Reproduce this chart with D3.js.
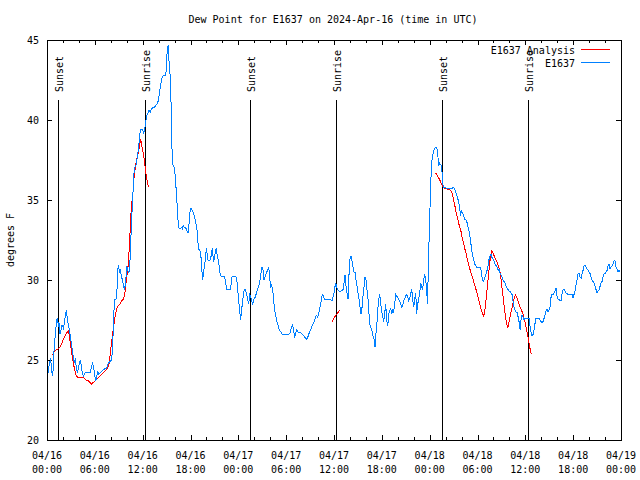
<!DOCTYPE html>
<html><head><meta charset="utf-8">
<script src="https://cdn.jsdelivr.net/npm/d3@7"></script>
<style>
html,body{margin:0;padding:0;background:#fff;}
svg{display:block;font-family:"DejaVu Sans Mono",monospace;font-size:10px;}
</style></head><body>
<svg id="chart" width="640" height="480"></svg>
<script>
// ---- data (hours after 2024-04-16 00:00 UTC, dew point in deg F) ----
const obsHours = [0.17,0.29,0.46,0.59,0.71,0.79,0.92,1.09,1.21,1.34,1.42,1.55,1.63,1.76,1.88,2.05,2.17,2.3,2.42,2.55,2.68,2.8,2.93,3.05,3.18,3.3,3.43,3.55,3.68,3.81,3.93,4.06,4.18,4.31,4.43,4.56,4.68,4.81,5.4,5.6,5.73,5.85,5.98,6.1,6.23,6.36,6.48,6.65,7.07,7.48,7.69,7.9,8.11,8.24,8.36,8.49,8.66,8.78,8.91,9.0,9.07,9.2,9.32,9.45,9.57,9.7,9.83,9.91,9.99,10.12,10.24,10.37,10.45,10.58,10.66,10.79,10.95,11.12,11.25,11.37,11.5,11.62,11.71,11.83,12.0,12.12,12.25,12.37,12.46,12.63,12.79,12.96,13.13,13.29,13.46,13.63,13.8,13.96,14.09,14.21,14.34,14.46,14.63,14.88,14.97,15.05,15.13,15.22,15.3,15.47,15.59,15.68,15.8,15.97,16.1,16.22,16.35,16.47,16.6,16.72,16.85,16.97,17.1,17.22,17.35,17.47,17.6,17.73,17.85,17.98,18.1,18.15,18.36,18.52,18.69,18.86,18.94,19.07,19.19,19.32,19.44,19.53,19.61,19.74,19.86,19.95,20.03,20.11,20.24,20.36,20.53,20.66,20.74,20.87,20.99,21.12,21.24,21.37,21.49,21.62,21.74,21.91,22.29,22.41,22.54,22.96,23.08,23.21,23.71,23.83,23.96,24.09,24.21,24.29,24.38,24.5,24.63,24.75,24.88,25.05,25.17,25.3,25.42,25.55,25.67,25.8,25.97,26.09,26.22,26.34,26.47,26.59,26.72,26.84,26.97,27.1,27.22,27.3,27.43,27.56,27.68,27.81,27.93,28.06,28.14,28.27,28.39,28.52,28.64,28.77,28.89,29.02,29.14,29.27,29.39,29.52,29.77,30.31,30.48,30.69,30.82,30.94,31.07,31.19,31.32,31.44,31.57,31.86,32.07,32.24,32.36,32.57,32.7,32.82,32.99,33.16,33.32,33.45,33.58,33.7,33.83,33.95,34.08,34.2,34.33,34.45,34.54,34.66,34.79,35.5,35.75,35.87,36.0,36.13,36.21,36.33,36.46,36.67,36.88,37.13,37.26,37.38,37.51,37.63,37.76,37.84,37.93,38.01,38.14,38.26,38.39,38.51,38.64,38.76,38.89,39.01,39.14,39.27,39.39,39.52,39.64,39.77,39.89,40.02,40.14,40.27,40.39,40.52,40.65,40.77,40.9,41.02,41.15,41.27,41.4,41.48,41.61,41.73,41.86,41.98,42.11,42.23,42.36,42.48,42.61,42.74,42.86,42.99,43.11,43.24,43.36,43.49,43.61,43.74,43.86,43.99,44.11,44.24,44.37,44.49,44.62,44.74,44.87,44.99,45.12,45.24,45.37,45.49,45.62,45.75,45.87,46.0,46.12,46.25,46.37,46.5,46.62,46.75,46.87,47.0,47.12,47.25,47.38,47.5,47.63,47.71,47.79,47.88,48.0,48.13,48.25,48.38,48.5,48.63,48.76,48.88,49.01,49.13,49.26,49.38,49.51,49.63,49.76,49.93,50.13,50.55,50.76,50.97,51.1,51.26,51.39,51.51,51.64,51.77,51.89,52.02,52.14,52.27,52.39,52.52,52.64,52.77,52.89,53.02,53.14,53.27,53.4,53.52,53.65,53.77,53.9,54.36,54.45,54.57,54.7,54.82,54.95,55.07,55.2,55.32,55.45,55.57,55.7,55.82,55.95,56.08,56.2,56.33,56.45,56.58,56.7,56.83,56.95,57.08,57.2,57.33,57.46,57.58,57.71,57.83,57.96,58.08,58.21,58.33,58.46,58.58,58.71,58.83,58.96,59.09,59.21,59.34,59.46,59.59,59.71,59.84,59.96,60.47,60.59,60.72,60.84,60.97,61.09,61.22,61.34,61.72,61.85,61.97,62.1,62.22,62.35,62.47,62.6,62.72,62.85,62.97,63.1,63.22,63.35,63.48,63.6,63.73,63.85,63.98,64.1,64.48,64.6,64.73,64.85,64.98,65.11,65.36,65.73,65.86,65.98,66.11,66.23,66.36,66.49,66.61,66.74,66.86,66.99,67.11,67.24,67.36,67.49,67.61,67.74,67.87,67.99,68.12,68.24,68.37,68.49,68.62,68.74,68.87,68.99,69.12,69.25,69.37,69.5,69.62,69.75,69.87,70.0,70.12,70.25,70.37,70.5,70.62,70.75,70.88,71.0,71.13,71.25,71.38,71.5,71.63,71.75,71.88];
const obsDewF = [24.2,24.8,25.1,24.3,24.0,24.6,26.0,26.8,27.5,27.6,27.1,27.3,26.6,26.9,27.2,27.0,27.3,27.8,28.1,27.6,27.2,26.9,26.5,26.0,25.6,25.2,24.8,25.1,24.5,24.2,24.5,24.8,25.0,24.6,24.2,24.0,24.1,24.2,24.2,24.6,24.8,24.5,24.1,23.7,23.9,24.3,24.1,24.2,24.4,24.5,24.8,24.9,25.0,25.9,27.7,28.8,28.8,29.4,30.8,30.9,30.5,30.6,30.3,30.0,29.7,29.4,29.7,30.2,30.9,30.6,30.5,30.6,31.9,33.3,34.2,35.5,37.0,37.1,37.4,37.8,38.4,38.9,39.4,39.4,39.4,39.2,39.4,39.8,40.2,40.4,40.6,40.5,40.7,40.8,40.8,40.9,41.0,41.2,41.6,42.1,42.4,42.7,42.8,42.8,43.2,44.1,44.5,44.7,43.7,42.6,40.5,38.2,37.2,37.0,36.4,35.5,34.5,33.4,33.2,33.2,33.3,33.2,33.4,33.3,33.3,33.2,33.0,33.0,33.7,34.5,34.5,34.4,34.2,33.9,33.5,33.0,32.3,31.9,31.8,31.4,30.5,30.0,30.4,30.8,31.3,31.8,32.0,31.4,31.2,31.2,31.3,31.8,32.0,31.2,31.3,31.8,32.0,31.4,31.3,30.8,30.3,30.2,30.2,29.8,29.4,29.4,29.7,30.2,30.2,29.9,29.2,28.5,27.9,27.5,28.0,28.5,29.1,29.4,29.4,29.1,28.8,28.5,29.1,29.0,28.7,28.5,28.8,28.9,29.1,29.3,29.5,29.7,30.0,30.4,30.8,30.6,30.0,30.1,30.3,30.5,30.6,30.8,30.2,29.5,29.7,29.5,29.0,28.2,27.9,27.6,27.3,27.1,26.9,26.8,26.7,26.6,26.6,26.6,26.7,27.1,27.2,26.8,26.4,26.7,26.9,26.8,26.7,26.7,26.6,26.5,26.4,26.3,26.4,26.6,26.8,27.0,27.2,27.3,27.5,27.7,27.8,27.7,27.9,28.2,28.5,28.9,29.1,29.0,28.8,28.8,28.7,28.9,29.2,29.6,29.8,29.6,29.4,29.3,29.3,29.4,29.8,30.3,29.6,29.2,28.8,30.0,30.7,31.3,31.5,31.2,30.8,30.5,30.5,30.0,29.6,29.2,28.8,28.3,27.9,28.3,29.0,29.6,30.2,30.0,29.4,28.8,27.9,27.2,27.0,26.8,26.5,26.3,25.8,26.7,27.4,28.1,28.8,29.1,28.5,28.1,27.7,27.4,27.9,28.5,27.5,27.1,27.9,28.1,28.2,27.9,28.1,28.0,28.5,29.1,29.0,28.9,28.8,28.7,28.5,28.3,28.4,28.7,28.8,29.0,29.1,29.0,28.7,28.8,29.2,29.4,28.8,28.3,28.8,29.2,27.9,28.5,28.8,29.2,29.8,29.6,29.4,30.0,30.4,30.0,29.4,28.5,29.8,31.7,33.8,36.0,37.3,37.8,38.1,38.2,38.3,38.3,37.9,37.1,37.3,37.2,37.1,36.0,35.8,35.8,35.7,35.7,35.7,35.8,35.7,35.5,35.3,35.1,34.9,34.4,34.1,34.3,34.2,34.0,33.8,33.8,33.7,33.4,33.2,32.8,32.4,31.9,31.5,31.3,31.0,30.9,30.8,30.8,30.6,30.2,29.9,30.0,30.2,30.4,30.6,30.9,31.3,31.5,31.6,31.4,31.3,31.2,31.0,30.9,30.8,30.6,30.7,30.4,30.3,30.2,30.0,29.9,29.8,29.6,29.5,29.4,29.3,29.3,29.2,29.1,28.7,28.3,28.1,28.0,28.0,27.7,27.4,26.9,27.5,27.8,27.7,27.5,27.6,27.6,27.1,26.7,26.5,26.6,26.9,27.3,27.6,27.6,27.5,27.4,27.3,27.4,27.6,27.8,28.1,28.2,28.0,28.1,28.3,28.9,29.1,29.1,29.2,29.3,29.5,29.0,28.8,28.7,29.1,29.4,29.4,29.3,29.2,29.1,29.1,29.1,28.9,29.1,29.3,29.7,30.0,30.4,30.4,30.2,30.1,30.4,30.6,30.9,30.9,30.8,30.7,30.6,30.5,30.4,30.2,30.0,29.9,29.8,29.6,29.4,29.2,29.3,29.4,29.6,29.8,29.9,30.2,30.4,30.4,30.5,30.6,30.9,31.0,30.7,30.8,30.9,31.0,31.2,31.2,30.8,30.7,30.5,30.6,30.5];

// analysis series (null = gap)
const anaHours = [0.67,1.0,1.42,1.63,1.84,2.05,2.26,2.47,2.68,2.8,2.93,3.05,3.18,3.3,3.43,3.55,3.68,3.93,4.35,4.56,4.77,4.98,5.19,5.4,5.6,5.81,6.02,6.23,6.44,6.65,6.86,7.07,7.27,7.48,7.69,7.82,7.94,8.07,8.2,8.32,8.45,8.57,8.7,8.82,8.95,9.16,9.37,9.57,9.7,9.83,9.95,10.08,10.2,10.33,10.41,10.5,10.66,10.79,10.95,11.08,11.2,11.37,11.5,11.62,11.75,11.87,12.0,12.12,12.25,12.37,12.5,12.63,12.75,
  13.0,
  35.8,36.1,36.4,36.7,
  37.0,
  48.75,49.17,49.59,49.72,50.13,50.55,50.76,50.89,51.01,51.14,51.26,51.39,51.51,51.64,51.77,51.89,52.02,52.14,52.27,52.39,52.52,52.64,52.77,52.89,53.02,53.14,53.27,53.4,53.52,53.65,53.77,53.9,54.02,54.15,54.27,54.4,54.52,54.65,54.77,54.9,55.03,55.15,55.28,55.4,55.53,55.65,55.78,55.9,56.03,56.15,56.28,56.41,56.53,56.66,56.78,56.91,57.03,57.16,57.28,57.41,57.53,57.66,57.79,57.91,58.04,58.16,58.29,58.41,58.54,58.66,58.79,58.91,59.04,59.16,59.29,59.42,59.54,59.67,59.79,59.92,60.04,60.17,60.29,60.42,60.54,60.67,60.75];
const anaDewF = [25.3,25.6,25.7,25.8,26.0,26.3,26.5,26.7,26.8,26.5,26.0,25.6,25.2,24.8,24.5,24.2,24.0,23.9,23.9,23.9,23.8,23.7,23.7,23.6,23.5,23.6,23.7,23.8,23.9,24.0,24.1,24.2,24.3,24.4,24.6,24.8,25.4,26.0,26.5,27.0,27.4,27.8,28.1,28.3,28.4,28.5,28.7,28.8,29.0,29.4,30.0,30.5,31.0,32.1,32.9,34.0,34.9,35.5,36.6,37.0,37.4,37.8,38.1,38.4,38.8,38.4,38.1,37.8,37.3,36.8,36.4,36.0,35.8,
  null,
  27.4,27.7,27.9,28.1,
  null,
  36.7,36.35,35.9,35.77,35.69,35.63,35.52,35.31,35.0,34.69,34.38,34.06,33.85,33.54,33.33,33.13,32.81,32.5,32.29,31.98,31.77,31.46,31.25,30.94,30.73,30.52,30.31,30.1,29.9,29.69,29.48,29.27,29.06,28.75,28.54,28.23,28.02,27.92,27.71,28.02,28.54,29.17,29.79,30.42,31.04,31.56,31.83,31.77,31.56,31.46,31.29,31.15,31.0,30.83,30.63,30.21,29.69,29.17,28.65,28.13,27.6,27.29,26.98,27.29,27.6,27.92,28.17,28.44,28.75,28.96,29.06,28.92,28.75,28.54,28.38,28.23,28.08,27.92,27.71,27.5,27.19,26.88,26.56,26.15,25.83,25.52,25.35];

const sunHours  = [1.42, 12.33, 25.5, 36.3, 49.58, 60.37];
const sunLabels = ["Sunset","Sunrise","Sunset","Sunrise","Sunset","Sunrise"];
const yTicks = [20, 25, 30, 35, 40, 45];
const xMajorHours = [0, 6, 12, 18, 24, 30, 36, 42, 48, 54, 60, 66, 72];
const xMinorHours = [2, 4, 8, 10, 14, 16, 20, 22, 26, 28, 32, 34, 38, 40, 44, 46, 50, 52, 56, 58, 62, 64, 68, 70];
const xTickDay  = ["04/16","04/16","04/16","04/16","04/17","04/17","04/17","04/17","04/18","04/18","04/18","04/18","04/19"];
const xTickTime = ["00:00","06:00","12:00","18:00","00:00","06:00","12:00","18:00","00:00","06:00","12:00","18:00","00:00"];
const titleText = "Dew Point for E1637 on 2024-Apr-16 (time in UTC)";
const yLabel = "degrees F";
const legendNames = ["E1637 Analysis", "E1637"];
const seriesColors = ["#ff0000", "#0080ff"];

// ---- drawing ----
const t0 = Date.UTC(2024, 3, 16, 0, 0, 0);
const toDate = h => new Date(t0 + h * 3600e3);
const L = 47, R = 621, T = 40, B = 440;

const x = d3.scaleUtc().domain([toDate(0), toDate(72)]).range([L, R]);
const y = d3.scaleLinear().domain([20, 45]).range([B, T]);

const svg = d3.select("#chart");
svg.append("rect").attr("width", 640).attr("height", 480).attr("fill", "#fff");

// title
svg.append("text").attr("x", 333).attr("y", 23).attr("text-anchor", "middle").text(titleText);

// y label
svg.append("text").attr("transform", "translate(14,240) rotate(-90)")
  .attr("text-anchor", "middle").text(yLabel);

function styleAxis(g) {
  g.selectAll(".domain").remove();
  g.selectAll("line").attr("stroke", "#000").attr("shape-rendering", "crispEdges");
  g.selectAll("text").remove();
}

// x minor ticks bottom & top
svg.append("g").attr("transform", `translate(0,${B})`)
  .call(d3.axisBottom(x).tickValues(xMinorHours.map(toDate)).tickSize(-3)).call(styleAxis);
svg.append("g").attr("transform", `translate(0,${T})`)
  .call(d3.axisTop(x).tickValues(xMinorHours.map(toDate)).tickSize(-3)).call(styleAxis);
// x major ticks
svg.append("g").attr("transform", `translate(0,${B})`)
  .call(d3.axisBottom(x).tickValues(xMajorHours.map(toDate)).tickSize(-5)).call(styleAxis);
svg.append("g").attr("transform", `translate(0,${T})`)
  .call(d3.axisTop(x).tickValues(xMajorHours.map(toDate)).tickSize(-5)).call(styleAxis);
// y ticks left & right
svg.append("g").attr("transform", `translate(${L},0)`)
  .call(d3.axisLeft(y).tickValues(yTicks).tickSize(-5)).call(styleAxis);
svg.append("g").attr("transform", `translate(${R},0)`)
  .call(d3.axisRight(y).tickValues(yTicks).tickSize(-5)).call(styleAxis);

// x tick labels
const xl = svg.append("g");
xMajorHours.forEach((h, i) => {
  const t = xl.append("text").attr("text-anchor", "middle").attr("x", x(toDate(h)));
  t.append("tspan").attr("x", x(toDate(h))).attr("y", 459).text(xTickDay[i]);
  t.append("tspan").attr("x", x(toDate(h))).attr("y", 473).text(xTickTime[i]);
});
// y tick labels
yTicks.forEach(v => {
  svg.append("text").attr("x", 39).attr("y", y(v) + 3.5).attr("text-anchor", "end").text(v);
});

// sunrise / sunset lines
sunHours.forEach((h, i) => {
  const sx = Math.round(x(toDate(h))) + 0.5;
  svg.append("line").attr("x1", sx).attr("x2", sx).attr("y1", 100).attr("y2", B)
    .attr("stroke", "#000").attr("shape-rendering", "crispEdges");
  svg.append("text").attr("transform", `translate(${sx + 4.5},92) rotate(-90)`)
    .attr("text-anchor", "start").text(sunLabels[i]);
});

// data lines
const obs = obsHours.map((h, i) => ({ t: toDate(h), v: obsDewF[i] }));
const ana = anaHours.map((h, i) => ({ t: toDate(h), v: anaDewF[i] }));
const line = d3.line().defined(d => d.v !== null).x(d => x(d.t)).y(d => y(d.v));

svg.append("path").datum(ana).attr("d", line).attr("fill", "none")
  .attr("stroke", seriesColors[0]).attr("stroke-width", 1).attr("shape-rendering", "crispEdges");
svg.append("path").datum(obs).attr("d", line).attr("fill", "none")
  .attr("stroke", seriesColors[1]).attr("stroke-width", 1).attr("shape-rendering", "crispEdges");
// redraw analysis on top where it overlaps
svg.append("path").datum(ana).attr("d", line).attr("fill", "none")
  .attr("stroke", seriesColors[0]).attr("stroke-width", 1).attr("shape-rendering", "crispEdges")
  .attr("opacity", 0);

// legend
legendNames.forEach((name, i) => {
  const ly = 49.5 + i * 13;
  svg.append("text").attr("x", 575).attr("y", ly + 4).attr("text-anchor", "end").text(name);
  svg.append("line").attr("x1", 581).attr("x2", 610).attr("y1", ly).attr("y2", ly)
    .attr("stroke", seriesColors[i]).attr("shape-rendering", "crispEdges");
});

// border
svg.append("rect").attr("x", L + 0.5).attr("y", T + 0.5).attr("width", R - L).attr("height", B - T)
  .attr("fill", "none").attr("stroke", "#000").attr("shape-rendering", "crispEdges");
</script>
</body></html>
